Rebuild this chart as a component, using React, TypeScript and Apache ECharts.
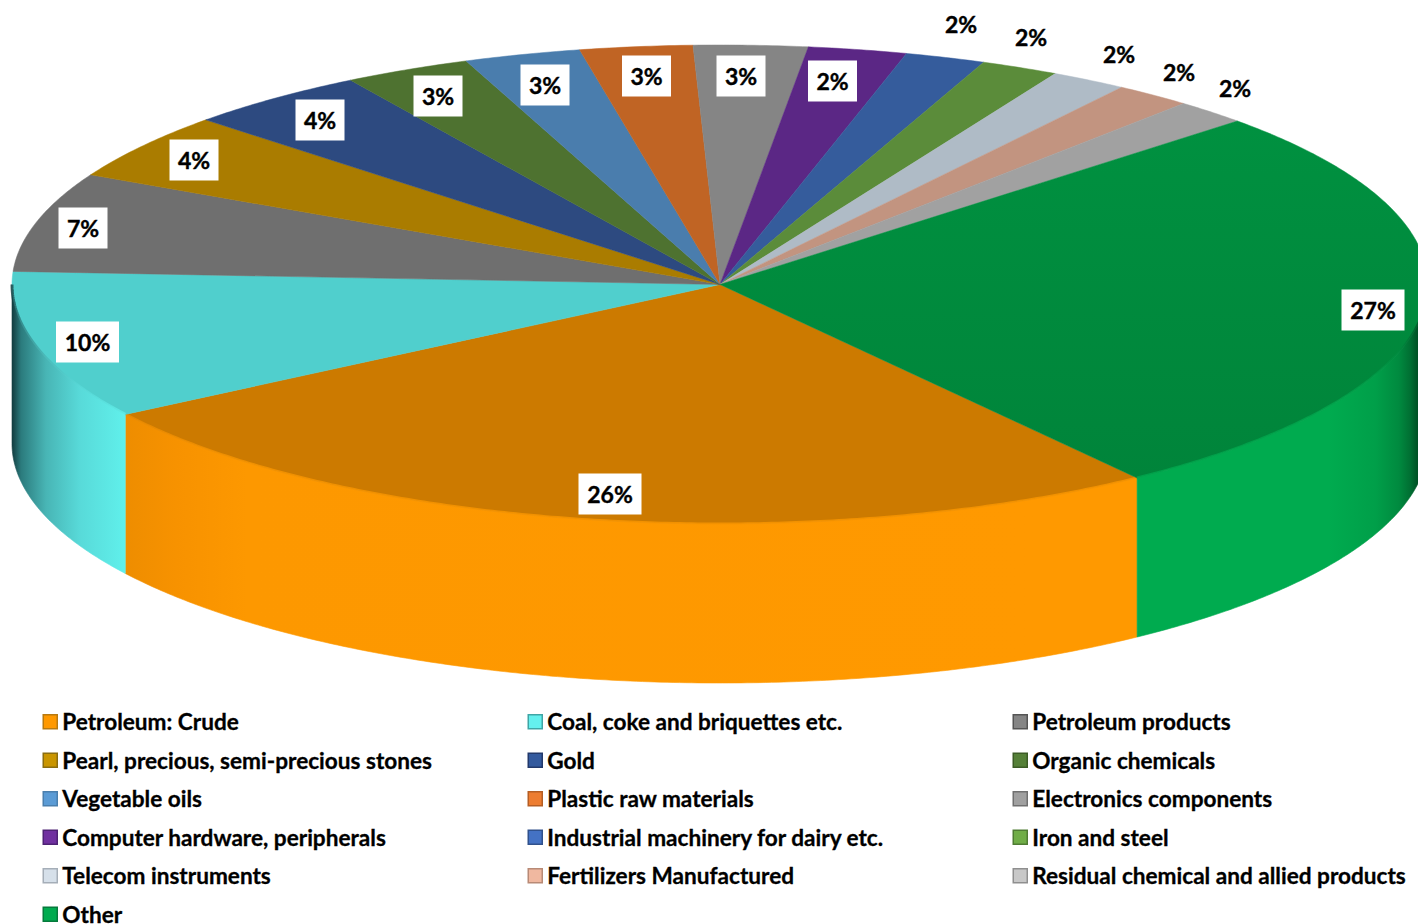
import React, { useEffect, useRef } from "react";
import * as echarts from "echarts";

const CATEGORIES = [
  "Petroleum: Crude", "Coal, coke and briquettes etc.", "Petroleum products",
  "Pearl, precious, semi-precious stones", "Gold", "Organic chemicals",
  "Vegetable oils", "Plastic raw materials", "Electronics components",
  "Computer hardware, peripherals", "Industrial machinery for dairy etc.", "Iron and steel",
  "Telecom instruments", "Fertilizers Manufactured", "Residual chemical and allied products",
  "Other",
];
const VALUES = [25.9, 10.0, 6.7, 4.49, 4.2, 2.9, 2.66, 2.57, 2.6, 2.25, 1.83, 1.78, 1.75, 1.76, 1.68, 26.93];
const TOP_COLORS = [
  "#CC7A00", "#50CFCD", "#6F6F6F", "#AA7C00", "#2D4A80", "#4E7230", "#4A7DAD", "#C06424",
  "#858585", "#5B2785", "#355C9C", "#5B8C3A", "#AFBBC6", "#C29480", "#A1A1A1", "#008C3F",
];
const LEGEND_COLORS = [
  "#FF9900", "#64F0EE", "#858585", "#C99500", "#335A9E", "#558038", "#5B9BD5", "#ED7D31",
  "#A0A0A0", "#7030A0", "#4472C4", "#70AD47", "#D6E0EA", "#F0B8A0", "#C8C8C8", "#00AB4F",
];
const LEGEND_BORDERS = [
  "#B87A10", "#3FA5A5", "#555555", "#8A6D10", "#22396B", "#3C5C26", "#4A7FAD", "#B55E24",
  "#707070", "#4E2275", "#30518C", "#4F7C33", "#A5AEB8", "#B88A76", "#8F8F8F", "#067A3C",
];
const WALL_STOPS: Record<number, [number, string][]> = {
  0: [[0, "#EE8D00"], [0.05, "#F79200"], [0.12, "#FD9800"], [0.9, "#FF9900"], [1, "#FF9900"]],
  1: [[0, "#123C3F"], [0.08, "#2B7B7D"], [0.3, "#48B5B5"], [0.6, "#58DAD9"], [1, "#60F0EB"]],
  15: [[0, "#00AB4F"], [0.66, "#00AB4F"], [0.82, "#009F49"], [0.9, "#008A3F"], [0.94, "#006E32"], [0.97, "#004A22"], [1, "#004A22"]],
};
// Label anchors, separate from the values above
const LABEL_CENTERS = [
  [610, 494], [87.5, 342], [83, 228], [194, 160], [320, 120], [438, 96], [545, 85], [646.5, 76],
  [741, 76], [832.5, 81], [961, 24], [1031, 37], [1119, 54], [1179, 72], [1235, 88], [1373, 310],
];
const LEGEND_COLUMNS = [42.5, 527.5, 1012.5];

const CX = 720, CY = 284.5, RX = 708, RY = 239.5, DEPTH = 159, START = 143.9;
const TOTAL = VALUES.reduce((a, b) => a + b, 0);
const FONT = "Lato";
const LEGEND_TOP = 710;
const LEGEND_PITCH = 38.5;

const pt = (deg: number, dy = 0): [number, number] => {
  const r = (deg * Math.PI) / 180;
  return [CX + RX * Math.sin(r), CY - RY * Math.cos(r) + dy];
};
const startOf = (i: number) =>
  START + (VALUES.slice(0, i).reduce((a, b) => a + b, 0) / TOTAL) * 360;

const arc = (a: number, b: number, dy = 0) => {
  const out: [number, number][] = [];
  const n = Math.max(2, Math.ceil(Math.abs(b - a) * 2));
  for (let k = 0; k <= n; k++) out.push(pt(a + ((b - a) * k) / n, dy));
  return out;
};

function renderSlice(i: number, api: any) {
  let a = startOf(i);
  if (a >= 360) a -= 360;
  const b = a + (api.value(0) / TOTAL) * 360;
  const children: any[] = [];
  const topFill =
    i === 15
      ? new echarts.graphic.LinearGradient(
          0, 120, 0, 480,
          [{ offset: 0, color: "#009140" }, { offset: 1, color: "#00843A" }],
          true,
        )
      : TOP_COLORS[i];
  const top = {
    type: "polygon",
    shape: { points: [[CX, CY], ...arc(a, b)] },
    style: { fill: topFill, stroke: topFill, lineWidth: 0.5 },
  };
  const stops = WALL_STOPS[i];
  if (stops) {
    const front = arc(Math.max(a, 90), Math.min(b, 270), 0);
    const xs = front.map((p) => p[0]);
    const x0 = Math.min(...xs);
    const x1 = Math.min(Math.max(...xs), 1428);
    const grad = new echarts.graphic.LinearGradient(
      x0, 0, x1, 0,
      stops.map(([offset, color]) => ({ offset, color })),
      true,
    );
    const bottom = front.map(([x, y]) => [x, y + DEPTH]).reverse();
    children.push({
      type: "polygon",
      shape: { points: [...front, ...bottom] },
      style: { fill: grad, stroke: grad, lineWidth: 0.6 },
    });
    children.push(top);
    children.push({
      type: "polyline",
      shape: { points: front },
      style: { fill: "none", stroke: grad, lineWidth: 3, opacity: 0.75 },
    });
  } else {
    children.push(top);
  }
  return { type: "group", children };
}

export default function App() {
  const ref = useRef<HTMLDivElement>(null);
  useEffect(() => {
    document.body.style.margin = "0";
    document.body.style.background = "#fff";
    document.body.style.overflow = "hidden";
    const chart = echarts.init(ref.current!, undefined, { renderer: "svg" });
    const series: any[] = CATEGORIES.map((name, i) => ({
      type: "custom",
      name,
      coordinateSystem: "none",
      silent: true,
      itemStyle: { color: LEGEND_COLORS[i] },
      data: [[VALUES[i]]],
      renderItem: (_p: any, api: any) => renderSlice(i, api),
    }));
    series.push({
      type: "custom",
      name: "labels",
      coordinateSystem: "none",
      silent: true,
      data: VALUES.map((v) => [v]),
      renderItem: (p: any, api: any) => {
        const [x, y] = LABEL_CENTERS[p.dataIndex];
        const text = `${Math.round((api.value(0) / TOTAL) * 100)}%`;
        const w = text.length === 3 ? 63 : 49;
        return {
          type: "group",
          children: [
            { type: "rect", shape: { x: x - w / 2, y: y - 20.5, width: w, height: 41 }, style: { fill: "#fff" } },
            {
              type: "text",
              style: {
                text, x, y: y - 0.5, align: "center", verticalAlign: "middle", fill: "#000",
                stroke: "#000", lineWidth: 0.4,
                fontFamily: FONT, fontWeight: "bold", fontSize: 23,
              },
            },
          ],
        };
      },
    });
    const legendItem = (i: number) => ({
      name: CATEGORIES[i],
      itemStyle: { color: LEGEND_COLORS[i], borderColor: LEGEND_BORDERS[i], borderWidth: 1.5 },
    });
    const legendBase = {
      orient: "vertical",
      selectedMode: false,
      padding: 0,
      itemWidth: 14,
      itemHeight: 14,
      itemGap: LEGEND_PITCH - 23.25,
      icon: "rect",
      textStyle: {
        fontFamily: FONT, fontWeight: "bold", fontSize: 22.6, color: "#000", lineHeight: 20,
        textBorderColor: "#000", textBorderWidth: 0.3,
      },
    };
    const legend: any[] = LEGEND_COLUMNS.map((left, c) => ({
      ...legendBase,
      left,
      top: LEGEND_TOP,
      data: CATEGORIES.map((_n, i) => i).filter((i) => i < 15 && i % 3 === c).map(legendItem),
    }));
    legend.push({
      ...legendBase,
      left: LEGEND_COLUMNS[0],
      top: LEGEND_TOP + 5 * LEGEND_PITCH,
      data: [legendItem(15)],
    });
    chart.setOption({ animation: false, backgroundColor: "#fff", legend, series });
    return () => chart.dispose();
  }, []);
  return <div ref={ref} style={{ position: "absolute", left: 0, top: 0, width: 1418, height: 924 }} />;
}
